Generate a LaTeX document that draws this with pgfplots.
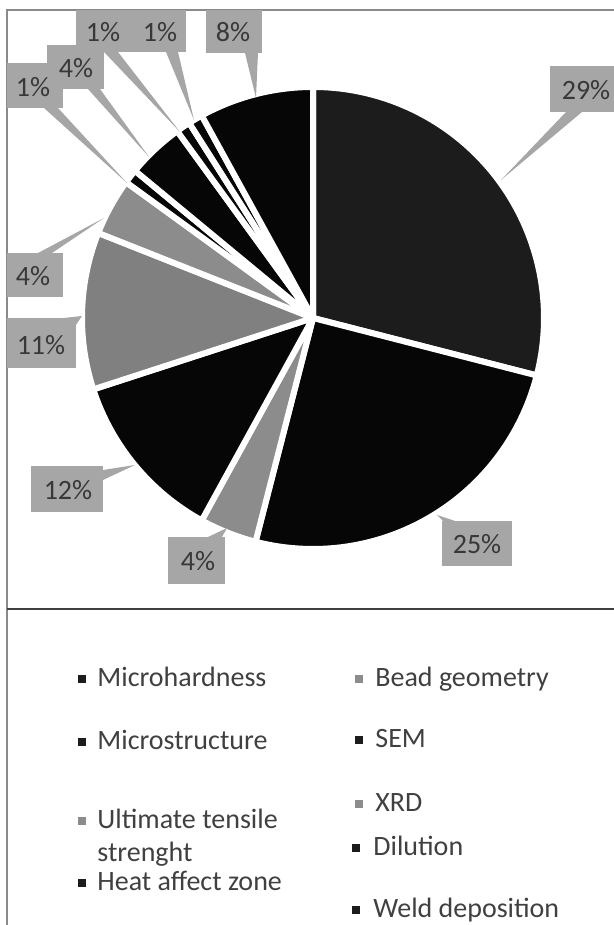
\documentclass[border=0pt]{standalone}
\usepackage{pgfplots}
\pgfplotsset{compat=1.18}
\usepackage{fontspec}
\setmainfont{Carlito}

\definecolor{sliceDark}{HTML}{1C1C1C}
\definecolor{sliceBlack}{HTML}{060606}
\definecolor{sliceGray}{HTML}{808080}
\definecolor{sliceLight}{HTML}{8C8C8C}
\definecolor{callout}{HTML}{A6A6A6}
\definecolor{labeltext}{HTML}{383838}
\definecolor{frameline}{HTML}{8A8A8A}
\definecolor{legtext}{HTML}{404040}

\begin{document}
\begin{tikzpicture}
\begin{axis}[
  x=0.5pt, y=0.5pt,
  xmin=0, xmax=614, ymin=0, ymax=925,
  hide axis, clip=false,
  anchor=origin, at={(0,0)},
]
% frame of the chart area
\draw[frameline, line width=0.6pt] (axis cs:7,0) -- (axis cs:7,915) -- (axis cs:614,915);
\draw[black!75, line width=1pt] (axis cs:7,316) -- (axis cs:614,316);

% pie slices, clockwise from 12 o'clock (percent values)
\foreach \v/\col [remember=\e as \s (initially 90)] in
  {29/sliceDark, 25/sliceBlack, 4/sliceLight, 12/sliceBlack, 11/sliceGray,
   4/sliceLight, 1/sliceBlack, 4/sliceBlack, 1/sliceBlack, 1/sliceBlack, 8/sliceBlack}{
  \pgfmathsetmacro{\e}{\s-3.6*\v}
  \edef\pieslice{\noexpand\draw[fill=\col, draw=white, line width=3pt, line join=round]
    (axis cs:313,607) -- ++(\s:115.5pt) arc[start angle=\s, end angle=\e, radius=115.5pt] -- cycle;}
  \pieslice
}

% callouts
\fill[callout] (axis cs:550,813) rectangle (axis cs:614,859);
\fill[callout] (axis cs:501,745) -- (axis cs:566,813) -- (axis cs:582,813) -- cycle;
\fill[callout] (axis cs:206,872) rectangle (axis cs:262,915);
\fill[callout] (axis cs:256,827) -- (axis cs:245,872) -- (axis cs:258,872) -- cycle;
\fill[callout] (axis cs:76,873) rectangle (axis cs:186,915);
\fill[callout] (axis cs:180,793) -- (axis cs:104,873) -- (axis cs:118,873) -- cycle;
\fill[callout] (axis cs:194,805) -- (axis cs:166,873) -- (axis cs:178,873) -- cycle;
\fill[callout] (axis cs:47,836) rectangle (axis cs:104,880);
\fill[callout] (axis cs:149,768) -- (axis cs:88,836) -- (axis cs:100,836) -- cycle;
\fill[callout] (axis cs:7,817) rectangle (axis cs:63,862);
\fill[callout] (axis cs:127,742) -- (axis cs:44,817) -- (axis cs:58,817) -- cycle;
\fill[callout] (axis cs:7,628) rectangle (axis cs:63,672);
\fill[callout] (axis cs:104,707) -- (axis cs:38,672) -- (axis cs:52,672) -- cycle;
\fill[callout] (axis cs:7,557) rectangle (axis cs:76,607);
\fill[callout] (axis cs:82,609) -- (axis cs:64,607) -- (axis cs:76,600) -- cycle;
\fill[callout] (axis cs:31,413) rectangle (axis cs:103,459);
\fill[callout] (axis cs:135,460) -- (axis cs:103,455) -- (axis cs:103,445) -- cycle;
\fill[callout] (axis cs:168,341) rectangle (axis cs:225,388);
\fill[callout] (axis cs:227,397) -- (axis cs:208,388) -- (axis cs:222,388) -- cycle;
\fill[callout] (axis cs:442,359) rectangle (axis cs:512,404);
\fill[callout] (axis cs:437,410) -- (axis cs:443,404) -- (axis cs:455,404) -- cycle;

\begin{scope}[every node/.style={anchor=base, inner sep=0pt, text=labeltext, font=\fontsize{14}{16}\selectfont}]
\node at (axis cs:586,825) {29\%};
\node at (axis cs:233,883) {8\%};
\node at (axis cs:103,883) {1\%};
\node at (axis cs:160,883) {1\%};
\node at (axis cs:76,847) {4\%};
\node at (axis cs:33,828) {1\%};
\node at (axis cs:33,639) {4\%};
\node at (axis cs:41,570) {11\%};
\node at (axis cs:68,425) {12\%};
\node at (axis cs:198,354) {4\%};
\node at (axis cs:477,371) {25\%};
\end{scope}

% legend
\begin{scope}[every node/.style={anchor=base west, inner sep=0pt, text=legtext, font=\fontsize{14}{16}\selectfont}]
\fill[sliceDark] (axis cs:78,242) rectangle (axis cs:86,250);
\node at (axis cs:97,238) {Microhardness};
\fill[sliceLight] (axis cs:355,242) rectangle (axis cs:363,250);
\node at (axis cs:375,238) {Bead geometry};
\fill[sliceDark] (axis cs:78,179) rectangle (axis cs:86,187);
\node at (axis cs:97,175) {Microstructure};
\fill[sliceDark] (axis cs:355,181) rectangle (axis cs:363,189);
\node at (axis cs:375,177) {SEM};
\fill[sliceLight] (axis cs:355,117) rectangle (axis cs:363,125);
\node at (axis cs:375,113) {XRD};
\fill[sliceLight] (axis cs:78,100) rectangle (axis cs:86,108);
\node at (axis cs:97,96) {Ultimate tensile};
\node at (axis cs:97,63) {strenght};
\fill[sliceDark] (axis cs:352,73) rectangle (axis cs:360,81);
\node at (axis cs:373,69) {Dilution};
\fill[sliceDark] (axis cs:78,38) rectangle (axis cs:86,46);
\node at (axis cs:97,34) {Heat affect zone};
\fill[sliceDark] (axis cs:352,11) rectangle (axis cs:360,19);
\node at (axis cs:373,7) {Weld deposition};
\end{scope}
\end{axis}
\pgfresetboundingbox
\useasboundingbox (0,0) rectangle (307pt,462.5pt);
\end{tikzpicture}
\end{document}
